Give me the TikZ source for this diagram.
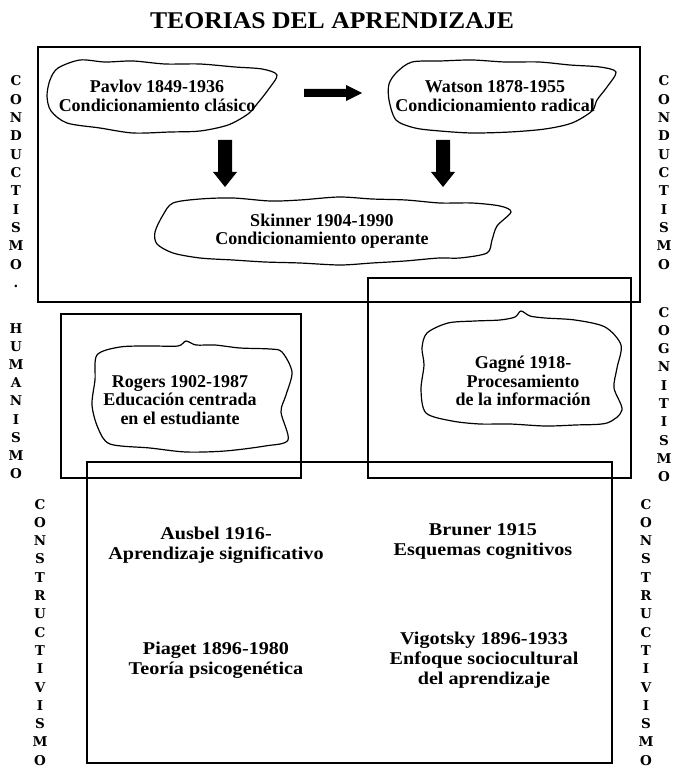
\documentclass[tikz,border=0pt]{standalone}
\usepackage{fontspec}
\setmainfont{Liberation Serif}
\newfontfamily\titlefont[FakeStretch=1.07]{Liberation Serif}
\newfontfamily\lowfont[FakeStretch=1.12]{Liberation Serif}
\newfontfamily\sidefont{DejaVu Serif}
\begin{document}
\begin{tikzpicture}[x=1pt,y=-1pt,
  box/.style={draw=black, line width=1.2pt},
  cloudline/.style={draw=black, line width=1.2pt, line join=round},
  ctext/.style={font=\bfseries\fontsize{18}{18.5}\selectfont, align=center, inner sep=0pt},
  ltext/.style={font=\lowfont\bfseries\fontsize{18}{20}\selectfont, align=center, inner sep=0pt},
  side/.style={font=\sidefont\bfseries\fontsize{13.5}{13.5}\selectfont, inner sep=0pt, text height=10pt, text depth=0pt},
  blockarrow/.style={fill=black}]
\useasboundingbox (0,0) rectangle (679,770);

% title
\node[font=\titlefont\bfseries\fontsize{24}{24}\selectfont, inner sep=0pt] (title) at (332,21) {TEORIAS DEL APRENDIZAJE};

% boxes
\draw[box] (38,47) rectangle (640,302);
\draw[box] (61,314) rectangle (301,478);
\draw[box] (368,278) rectangle (631,478);
\draw[box] (87,462) rectangle (612,763);

% clouds
\draw[cloudline] plot[smooth cycle, tension=0.5] coordinates {(58,68) (80,60) (105,62) (133,61) (165,64) (200,64) (235,67) (262,69) (277,75) (268,90) (257,104) (248,114) (228,125) (200,131) (170,132) (133,133) (100,128) (67,123) (51,111) (47,96) (50,80)};
\draw[cloudline] plot[smooth cycle, tension=0.5] coordinates {(397,72) (412,62) (440,61) (472,60) (505,62) (539,62) (570,65) (600,67) (616,72) (607,87) (597,100) (592,111) (572,123) (545,129) (510,132) (472,133) (440,131) (415,128) (396,120) (389,100) (389,84)};
\draw[cloudline] plot[smooth cycle, tension=0.5] coordinates {(173,203) (200,199) (233,198) (270,201) (300,200) (339,197) (372,199) (406,200) (440,203) (472,203) (500,206) (511,212) (497,226) (492,240) (487,253) (460,258) (439,258) (405,261) (372,263) (340,265) (300,263) (265,262) (233,260) (200,258) (173,253) (157,244) (155,232) (163,215)};
\draw[cloudline] plot[smooth cycle, tension=0.5] coordinates {(97,355) (120,347) (150,346) (178,346) (186,341) (196,345) (215,345) (240,348) (270,349) (282,352) (292,372) (286,395) (281,412) (288,440) (265,446) (225,451) (186,452) (150,448) (110,444) (98,428) (92,405) (95,380)};
\draw[cloudline] plot[smooth cycle, tension=0.5] coordinates {(427,333) (448,323) (475,321) (500,320) (515,317) (521,311) (530,316) (545,318) (575,320) (605,327) (621,345) (617,368) (614,388) (622,410) (607,423) (575,425) (545,426) (510,424) (480,424) (452,421) (426,413) (421,390) (424,365) (422,348)};

% block arrows
\fill[blockarrow] (304,89) -- (346,89) -- (346,85) -- (362,93) -- (346,101) -- (346,97) -- (304,97) -- cycle;
\fill[blockarrow] (218,140) -- (232,140) -- (232,172) -- (237,172) -- (225,187) -- (213,172) -- (218,172) -- cycle;
\fill[blockarrow] (436,140) -- (450,140) -- (450,172) -- (455,172) -- (443,187) -- (431,172) -- (436,172) -- cycle;

% cloud texts
\node[ctext] (pavlov) at (157,96) {Pavlov 1849-1936\\Condicionamiento clásico};
\node[ctext] (watson) at (495,96) {Watson 1878-1955\\Condicionamiento radical};
\node[ctext] (skinner) at (322,231) {Skinner 1904-1990\\Condicionamiento operante};
\node[ctext] (rogers) at (180,400) {Rogers 1902-1987\\Educación centrada\\en el estudiante};
\node[ctext] (gagne) at (523,381) {Gagné 1918-\\Procesamiento\\de la información};

% lower texts
\node[ltext] (ausbel) at (216,545) {Ausbel 1916-\\Aprendizaje significativo};
\node[ltext] (bruner) at (483,542) {Bruner 1915\\Esquemas cognitivos};
\node[ltext] (piaget) at (216,660) {Piaget 1896-1980\\Teoría psicogenética};
\node[ltext] (vigotsky) at (484,660) {Vigotsky 1896-1933\\Enfoque sociocultural\\del aprendizaje};

% side letters
\foreach \l [count=\i from 0] in {C,O,N,D,U,C,T,I,S,M,O,.}
  \node[side] (lc\i) at (16,{81+18.3*\i}) {\l};
\foreach \l [count=\i from 0] in {H,U,M,A,N,I,S,M,O}
  \node[side] (lh\i) at (16,{328+18.2*\i}) {\l};
\foreach \l [count=\i from 0] in {C,O,N,S,T,R,U,C,T,I,V,I,S,M,O}
  \node[side] (lk\i) at (40,{504+18.3*\i}) {\l};
\foreach \l [count=\i from 0] in {C,O,N,D,U,C,T,I,S,M,O}
  \node[side] (rc\i) at (664,{81+18.3*\i}) {\l};
\foreach \l [count=\i from 0] in {C,O,G,N,I,T,I,S,M,O}
  \node[side] (rg\i) at (664,{312+18.3*\i}) {\l};
\foreach \l [count=\i from 0] in {C,O,N,S,T,R,U,C,T,I,V,I,S,M,O}
  \node[side] (rk\i) at (646,{504+18.3*\i}) {\l};
\end{tikzpicture}
\end{document}
